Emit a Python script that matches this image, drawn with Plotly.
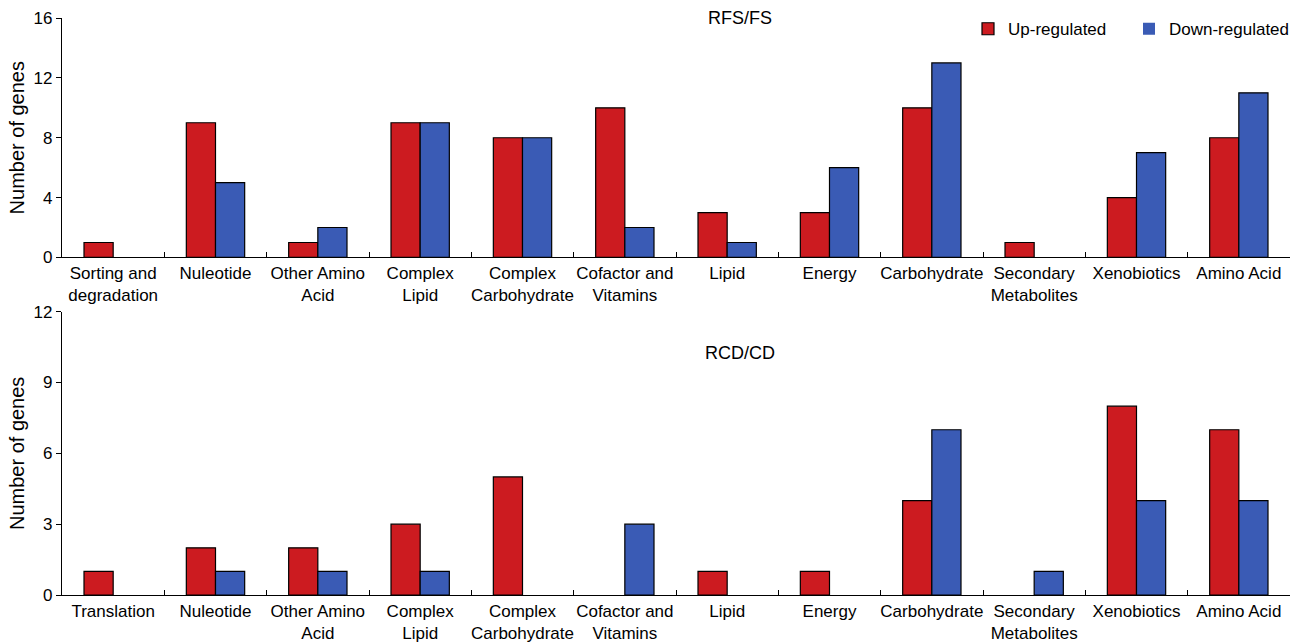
import plotly.graph_objects as go

cats_top = ["Sorting and<br>degradation", "Nuleotide", "Other Amino<br>Acid", "Complex<br>Lipid",
            "Complex<br>Carbohydrate", "Cofactor and<br>Vitamins", "Lipid", "Energy", "Carbohydrate",
            "Secondary<br>Metabolites", "Xenobiotics", "Amino Acid"]
cats_bot = ["Translation", "Nuleotide", "Other Amino<br>Acid", "Complex<br>Lipid",
            "Complex<br>Carbohydrate", "Cofactor and<br>Vitamins", "Lipid", "Energy", "Carbohydrate",
            "Secondary<br>Metabolites", "Xenobiotics", "Amino Acid"]
up_top = [1, 9, 1, 9, 8, 10, 3, 3, 10, 1, 4, 8]
down_top = [0, 5, 2, 9, 8, 2, 1, 6, 13, 0, 7, 11]
up_bot = [1, 2, 2, 3, 5, 0, 1, 1, 4, 0, 8, 7]
down_bot = [0, 1, 1, 1, 0, 3, 0, 0, 7, 1, 4, 4]

RED = "#cc1b20"
BLUE = "#3a5bb5"
FONT = "Liberation Sans, Arial, sans-serif"


def outline(vals):
    return dict(color="black", width=[1.2 if v else 0 for v in vals])


fig = go.Figure()
fig.add_trace(go.Bar(x=cats_top, y=up_top, name="Up-regulated", marker=dict(color=RED, line=outline(up_top)),
                     xaxis="x", yaxis="y", legendgroup="u"))
fig.add_trace(go.Bar(x=cats_top, y=down_top, name="Down-regulated", marker=dict(color=BLUE, line=outline(down_top)),
                     xaxis="x", yaxis="y", legendgroup="d"))
fig.add_trace(go.Bar(x=cats_bot, y=up_bot, name="Up-regulated", marker=dict(color=RED, line=outline(up_bot)),
                     xaxis="x2", yaxis="y2", showlegend=False, legendgroup="u"))
fig.add_trace(go.Bar(x=cats_bot, y=down_bot, name="Down-regulated", marker=dict(color=BLUE, line=outline(down_bot)),
                     xaxis="x2", yaxis="y2", showlegend=False, legendgroup="d"))

xcommon = dict(type="category", showline=True, linecolor="black", linewidth=1.2,
               ticks="inside", tickson="boundaries", ticklen=5, tickcolor="black", tickangle=0,
               automargin=False,
               tickfont=dict(size=17, color="black", family=FONT), showgrid=False, zeroline=False)
ycommon = dict(showline=True, linecolor="black", linewidth=1.2, ticks="outside", ticklen=5,
               tickcolor="black", tickfont=dict(size=17, color="black", family=FONT),
               showgrid=False, zeroline=False, automargin=False,
               title=dict(text="Number of genes", font=dict(size=20, color="black", family=FONT), standoff=3))

fig.update_layout(
    width=1303, height=642,
    margin=dict(l=62, r=13, t=17, b=47),
    plot_bgcolor="white", paper_bgcolor="white",
    barmode="group", bargap=0.43, bargroupgap=0,
    font=dict(family=FONT, color="black"),
    xaxis=dict(domain=[0, 1], anchor="y", **xcommon),
    yaxis=dict(domain=[0.585, 1], anchor="x", range=[0, 16], tickvals=[0, 4, 8, 12, 16], **ycommon),
    xaxis2=dict(domain=[0, 1], anchor="y2", **xcommon),
    yaxis2=dict(domain=[0, 0.491], anchor="x2", range=[0, 12], tickvals=[0, 3, 6, 9, 12], **ycommon),
    legend=dict(orientation="h", x=1.0, y=1.01, xanchor="right", yanchor="top",
                font=dict(size=17, color="black", family=FONT), entrywidth=116, entrywidthmode="pixels",
                bgcolor="rgba(0,0,0,0)", itemwidth=30),
    annotations=[
        dict(text="RFS/FS", x=0.552, y=1.02, xref="paper", yref="paper", xanchor="center", yanchor="top",
             showarrow=False, font=dict(size=18, color="black", family=FONT)),
        dict(text="RCD/CD", x=0.552, y=0.42, xref="paper", yref="paper", xanchor="center", yanchor="middle",
             showarrow=False, font=dict(size=18, color="black", family=FONT)),
    ],
)

fig.write_html("out.html")
